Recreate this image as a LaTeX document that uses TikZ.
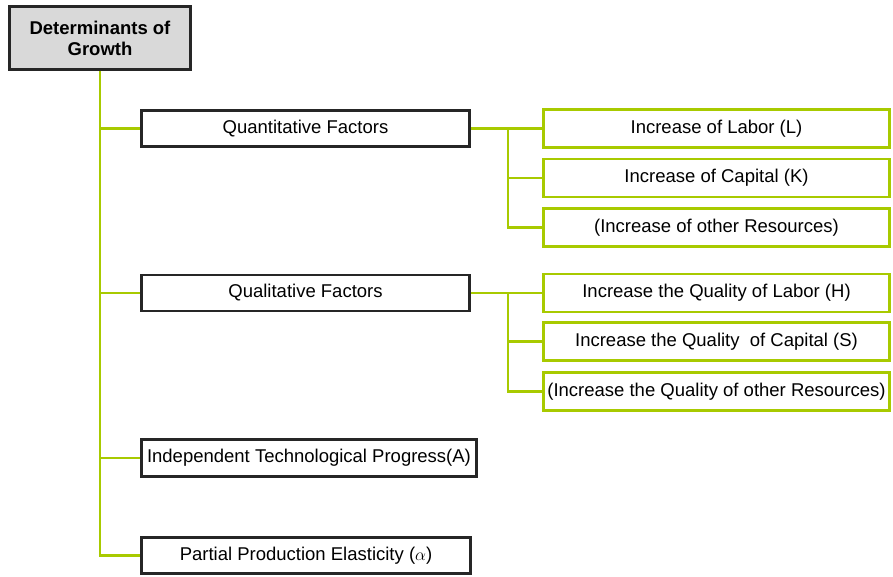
\documentclass[tikz,border=0pt]{standalone}
\usepackage{fontspec}
\setmainfont{Liberation Sans}
\usetikzlibrary{calc}
\definecolor{lime}{RGB}{168,202,0}
\definecolor{rootgray}{RGB}{217,217,217}
\begin{document}
\begin{tikzpicture}[x=1pt,y=-1pt,
  every node/.style={font=\fontsize{18.5}{21}\selectfont, inner sep=0pt, align=center},
  rootbox/.style={draw=black!85, line width=2.8pt, fill=rootgray, font=\fontsize{18.5}{21}\selectfont\bfseries},
  leftbox/.style={draw=black!85, line width=2.8pt, fill=white},
  rightbox/.style={draw=lime, line width=2.8pt, fill=white, minimum width=346pt, minimum height=38pt},
  link/.style={draw=lime, line width=2.8pt}]
\useasboundingbox (0,0) rectangle (893,576);
% nodes
\node[rootbox, minimum width=181pt, minimum height=63pt] (root) at (100,38) {Determinants of\\Growth};
\node[leftbox, minimum width=328pt, minimum height=36pt] (qn) at (305.5,128.5) {Quantitative Factors};
\node[leftbox, minimum width=328pt, minimum height=36pt] (ql) at (305.5,293) {Qualitative Factors};
\node[leftbox, minimum width=335pt, minimum height=37pt] (tp) at (309,458) {Independent Technological Progress(A)};
\node[leftbox, minimum width=329pt, minimum height=36pt] (pe) at (306,555.5) {Partial Production Elasticity ($\alpha$)};
\node[rightbox] (r1) at (716.5,128.5) {Increase of Labor (L)};
\node[rightbox] (r2) at (716.5,178) {Increase of Capital (K)};
\node[rightbox] (r3) at (716.5,227.5) {(Increase of other Resources)};
\node[rightbox] (s1) at (716.5,293) {Increase the Quality of Labor (H)};
\node[rightbox] (s2) at (716.5,341.5) {Increase the Quality\ \ of Capital (S)};
\node[rightbox] (s3) at (716.5,391.5) {(Increase the Quality of other Resources)};
% connectors
\coordinate (j1) at ($(qn.east)+(37,0)$);
\coordinate (j2) at ($(ql.east)+(37,0)$);
\path[link] (root.south) |- (pe.west);
\path[link] (root.south) |- (qn.west);
\path[link] (root.south) |- (ql.west);
\path[link] (root.south) |- (tp.west);
\path[link] (qn.east) -- (j1) |- (r3.west);
\path[link] (j1) |- (r2.west);
\path[link] (j1) -- (r1.west);
\path[link] (ql.east) -- (j2) |- (s3.west);
\path[link] (j2) |- (s2.west);
\path[link] (j2) -- (s1.west);
\end{tikzpicture}
\end{document}
